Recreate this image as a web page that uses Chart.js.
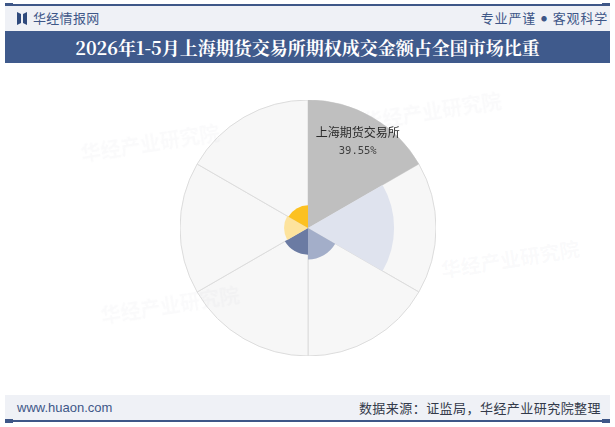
<!DOCTYPE html>
<html>
<head>
<meta charset="utf-8">
<script src="https://cdn.jsdelivr.net/npm/chart.js@4/dist/chart.umd.min.js"></script>
<style>
  html, body { margin: 0; padding: 0; background: #ffffff; }
  body { width: 615px; height: 427px; position: relative; overflow: hidden; font-family: "Noto Sans CJK SC", "Noto Sans", sans-serif; }
  .line { position: absolute; left: 5px; width: 605px; height: 2px; background: #3e5788; }
  .cap { position: absolute; width: 8px; height: 4px; background: #3e5788; }
  #hdr { position: absolute; left: 5px; top: 6px; width: 605px; height: 25px; background: #eff1f6; }
  #logoIcon { position: absolute; left: 17px; top: 12px; width: 10px; height: 13px; }
  #logoText { position: absolute; left: 33px; top: 9px; font-size: 13px; color: #3e5788; line-height: 18px; letter-spacing: 0.3px; }
  #slogan { position: absolute; right: 7px; top: 9px; font-size: 13px; color: #3e5788; line-height: 18px; letter-spacing: 0.8px; white-space: nowrap; }
  #slogan .dot { display: inline-block; font-size: 6px; position: relative; top: -2px; margin: 0 5px; }
  #titleBar { position: absolute; left: 5px; top: 31px; width: 605px; height: 32px; background: #3f5a8c; color: #ffffff; text-align: center; font-size: 18px; font-weight: bold; line-height: 32px; letter-spacing: 0px; font-family: "Noto Serif CJK SC", "Noto Sans CJK SC", serif; }
  #ftr { position: absolute; left: 5px; top: 395px; width: 605px; height: 25px; background: #eff1f6; }
  #site { position: absolute; left: 17px; top: 399px; font-family: "Liberation Sans", Arial, sans-serif; font-size: 13px; color: #3e5788; line-height: 18px; }
  #src { position: absolute; right: 14px; top: 399px; font-size: 13px; color: #333a4a; line-height: 18px; letter-spacing: 0.45px; }
  #chartBox { position: absolute; left: 180px; top: 100px; width: 256px; height: 256px; }
  .wm { position: absolute; font-size: 20px; font-weight: bold; color: rgba(180,188,205,0.07); transform: rotate(-9deg); white-space: nowrap; pointer-events: none; }
</style>
</head>
<body>
<div class="line" style="top:4px"></div>
<div class="cap" style="left:5px; top:3px"></div>
<div class="cap" style="left:602px; top:3px"></div>
<div id="hdr"></div>
<svg id="logoIcon" viewBox="0 0 10 13"><path d="M0 0 L4 2 L4 11 L0 13 Z M10 0 L6 2 L6 11 L10 13 Z" fill="#2f4a7c"/></svg>
<div id="logoText">华经情报网</div>
<div id="slogan">专业严谨<span class="dot">●</span>客观科学</div>
<div id="titleBar">2026年1-5月上海期货交易所期权成交金额占全国市场比重</div>

<div id="chartBox"><canvas id="c" width="256" height="256"></canvas></div>

<div class="wm" style="left:80px; top:128px;">华经产业研究院</div>
<div class="wm" style="left:362px; top:96px;">华经产业研究院</div>
<div class="wm" style="left:440px; top:244px;">华经产业研究院</div>
<div class="wm" style="left:100px; top:290px;">华经产业研究院</div>

<div id="ftr"></div>
<div id="site">www.huaon.com</div>
<div id="src">数据来源：证监局，华经产业研究院整理</div>
<div class="line" style="top:420px"></div>
<div class="cap" style="left:5px; top:419px"></div>
<div class="cap" style="left:602px; top:419px"></div>

<script>
// ---- data (share of national options turnover, %) ----
const exchanges = ["上海期货交易所", "大连商品交易所", "郑州商品交易所", "中国金融期货交易所", "广州期货交易所", "上海国际能源交易中心"];
const shares = [39.55, 26.6, 9.7, 8.25, 7.4, 7.0];
const sliceColors = ["#bfbfbf", "#dfe3ee", "#a3aec9", "#6b7ba3", "#fde39d", "#fcc121"];
const labelledIndex = [0];

const fullValue = Math.max(...shares);
const backdrop = exchanges.map(() => fullValue);

const labelPlugin = {
  id: 'sliceLabels',
  afterDatasetsDraw(chart) {
    const meta = chart.getDatasetMeta(0);
    const scale = chart.scales.r;
    const ctx = chart.ctx;
    labelledIndex.forEach(i => {
      const arc = meta.data[i];
      const p = arc.getProps(['x', 'y', 'startAngle', 'endAngle'], true);
      const mid = (p.startAngle + p.endAngle) / 2;
      const r = scale.drawingArea * 0.777;
      const x = p.x + Math.cos(mid) * r;
      const y = p.y + Math.sin(mid) * r;
      ctx.save();
      ctx.textAlign = 'center';
      ctx.textBaseline = 'middle';
      ctx.fillStyle = '#2b2b2b';
      ctx.font = '12px "Noto Sans CJK SC", sans-serif';
      ctx.fillText(exchanges[i], x, y - 9);
      ctx.fillStyle = '#404040';
      ctx.font = '10.5px "DejaVu Sans Mono", monospace';
      ctx.fillText(shares[i].toFixed(2) + '%', x, y + 9);
      ctx.restore();
    });
  }
};

new Chart(document.getElementById('c'), {
  type: 'polarArea',
  data: {
    labels: exchanges,
    datasets: [
      {
        data: shares,
        backgroundColor: sliceColors,
        borderWidth: 0
      },
      {
        data: backdrop,
        backgroundColor: '#f7f7f7',
        borderColor: '#dcdcdc',
        borderWidth: 1
      }
    ]
  },
  options: {
    responsive: false,
    animation: false,
    layout: { padding: 0 },
    plugins: {
      legend: { display: false },
      tooltip: { enabled: false }
    },
    scales: {
      r: {
        min: 0,
        max: fullValue,
        ticks: { display: false },
        grid: { display: false },
        angleLines: { display: false },
        pointLabels: { display: false }
      }
    }
  },
  plugins: [labelPlugin]
});
</script>
</body>
</html>
